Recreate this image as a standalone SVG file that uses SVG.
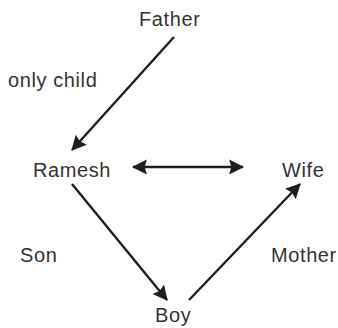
<svg xmlns="http://www.w3.org/2000/svg" width="338" height="328" viewBox="0 0 338 328">
<style>
text{font-family:"Liberation Sans",Arial,sans-serif;font-size:20px;letter-spacing:0.6px;fill:#333}
.c{stroke:#1e1e1e;stroke-width:2.4;fill:none}
</style>
<defs>
<marker id="ah" markerUnits="userSpaceOnUse" markerWidth="16" markerHeight="16" refX="13" refY="7" orient="auto-start-reverse" viewBox="0 0 15 14">
<path d="M0,0 L14,7 L0,14 L2,7 z" fill="#1e1e1e"/>
</marker>
</defs>
<rect width="338" height="328" fill="#fff"/>
<g id="connectors">
<line class="c" x1="174" y1="37" x2="72" y2="150" marker-end="url(#ah)"/>
<line class="c" x1="133" y1="167" x2="243" y2="167" marker-start="url(#ah)" marker-end="url(#ah)"/>
<line class="c" x1="72" y1="184" x2="167" y2="300" marker-end="url(#ah)"/>
<line class="c" x1="189" y1="300" x2="300" y2="184" marker-end="url(#ah)"/>
</g>
<g id="father"><text x="139" y="26">Father</text></g>
<g id="label-only-child"><text x="8" y="87">only child</text></g>
<g id="ramesh"><text x="33" y="177">Ramesh</text></g>
<g id="wife"><text x="282" y="177">Wife</text></g>
<g id="label-son"><text x="20" y="262">Son</text></g>
<g id="label-mother"><text x="271" y="262">Mother</text></g>
<g id="boy"><text x="155" y="322">Boy</text></g>
</svg>
